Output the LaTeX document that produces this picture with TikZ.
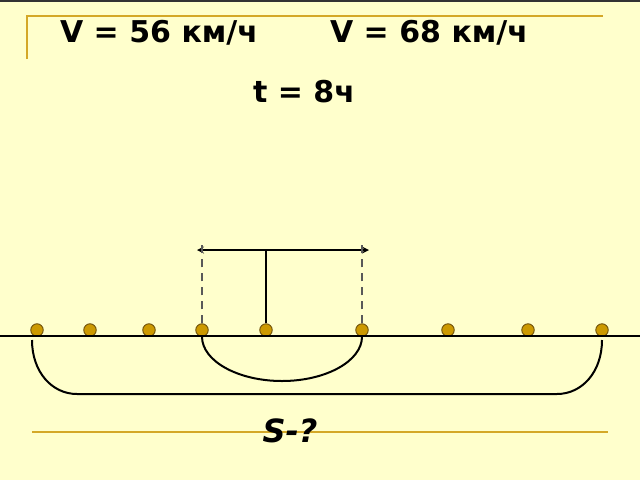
\documentclass[tikz,border=0pt]{standalone}
\usepackage{fontspec}
\setmainfont{DejaVu Sans}
\usepackage{tikz}
\usetikzlibrary{positioning,arrows}
\definecolor{mybg}{RGB}{255,255,204}
\definecolor{mygold}{RGB}{204,153,0}
\definecolor{myline}{RGB}{212,168,40}
\definecolor{mydark}{RGB}{110,80,10}

\begin{document}
\begin{tikzpicture}[x=1pt,y=-1pt,
	line width=2pt,
	dotnode/.style={draw=mydark,line width=0.9pt,circle,fill=mygold,inner sep=0pt,minimum size=12.5pt},
	bignode/.style={font=\fontsize{30}{36}\selectfont\bfseries,anchor=base,inner sep=0pt},
	qnode/.style={font=\fontsize{32}{38}\selectfont\bfseries\itshape,anchor=base,inner sep=0pt},
	frameline/.style={myline,line width=1.6pt},
	dashline/.style={gray!70!black,line width=1.3pt,dash pattern=on 8pt off 6pt},
	]
	
	% the background
	\fill[mybg] (0,0) rectangle (640,480);
	\useasboundingbox (0,0) rectangle (640,480);
	\draw[black!80,line width=2.4pt] (0,1) -- (640,1);
	
	% the frame lines
	\draw[frameline] (27,59) -- (27,16) -- (603,16);
	\draw[frameline] (32,432) -- (608,432);
	
	% the texts
	\node[bignode] (v1) at (159,42) {V = 56 км/ч};
	\node[bignode] (v2) at (429,42) {V = 68 км/ч};
	\node[bignode] (t) at (304,102) {t = 8ч};
	
	% the points
	\foreach \x [count=\i] in {37,90,149,202,266,362,448,528,602}
	\node[dotnode] (p\i) at (\x,330) {};
	
	% the road
	\coordinate (l) at (0,336);
	\coordinate (r) at (640,336);
	\draw[line width=2.6pt] (l) -- (r);
	
	% the arrow
	\coordinate (a1) at (197,250);
	\coordinate (a2) at (369,250);
	\draw[stealth-stealth] (a1) -- (a2);
	\draw (p5.north) -- (p5 |- a1);
	\draw[dashline] (p4.north) -- ([yshift=8pt]p4 |- a1);
	\draw[dashline] (p6.north) -- ([yshift=8pt]p6 |- a2);
	
	% the braces
	\draw (p4.south) .. controls (202,361) and (238,381) .. (282,381)
	      .. controls (326,381) and (362,361) .. (p6.south);
	\coordinate (b1) at (32,340);
	\coordinate (b2) at (602,340);
	\draw (b1) .. controls (32,372) and (52,394) .. (77,394) -- (557,394)
	      .. controls (582,394) and (602,372) .. (b2);
	
	% the question
	\node[qnode] (s) at (290,442) {S-?};
\end{tikzpicture}
\end{document}
